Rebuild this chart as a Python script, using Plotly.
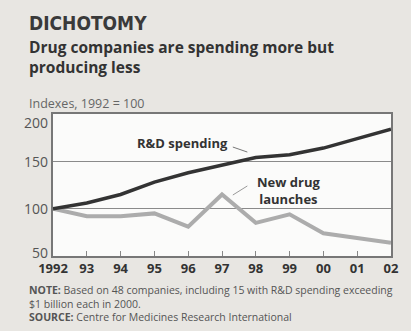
import plotly.graph_objects as go

years = [1992, 1993, 1994, 1995, 1996, 1997, 1998, 1999, 2000, 2001, 2002]
rd_spending = [100, 106, 115, 128, 138, 146, 154, 157, 164, 174, 184]
new_drug_launches = [100, 92, 92, 95, 81, 115, 85, 94, 74, 69, 64]
tick_labels = ["1992", "93", "94", "95", "96", "97", "98", "99", "00", "01", "02"]
y_ticks = [50, 100, 150, 200]
y_tick_shift = [4, 0, 0, -8]

FONT = "Open Sans"
BG = "#e8e6e2"

fig = go.Figure()
fig.add_trace(go.Scatter(x=years, y=new_drug_launches, mode="lines",
                         line=dict(color="#acacac", width=4), hoverinfo="skip"))
fig.add_trace(go.Scatter(x=years, y=rd_spending, mode="lines",
                         line=dict(color="#333333", width=3.5), hoverinfo="skip"))

fig.update_layout(
    width=411, height=331,
    margin=dict(l=53, r=12, t=114, b=75),
    paper_bgcolor=BG, plot_bgcolor="#fbfbfa",
    showlegend=False,
    font=dict(family=FONT, color="#444"),
)
fig.update_xaxes(range=[1992, 2002], tickvals=years, ticktext=tick_labels,
                 showgrid=False, zeroline=False,
                 showline=True, linecolor="#777", linewidth=1.5, mirror=True,
                 ticks="inside", ticklen=5, tickcolor="#888", tickwidth=1,
                 tickfont=dict(family=FONT, size=13, color="#333", weight="bold"))
fig.update_yaxes(range=[50, 200], tickvals=y_ticks, showticklabels=False,
                 showgrid=True, gridcolor="#8a8a8a", gridwidth=1, zeroline=False,
                 showline=True, linecolor="#777", linewidth=1.5, mirror=True,
                 ticks="")

ann = []
def ptext(x, y, text, size, color="#333", bold=False, family=FONT):
    return dict(xref="paper", yref="paper", x=(x - 53) / 346, y=(256 - y) / 142,
                xanchor="left", yanchor="middle", showarrow=False, align="left",
                text=text, font=dict(family=family, size=size, color=color,
                                     weight="bold" if bold else "normal"))

ann.append(ptext(26, 23, "DICHOTOMY", 19, "#3a3a3a", True, "DejaVu Sans Condensed"))
ann.append(ptext(26, 57, "Drug companies are spending more but<br>producing less", 15.5, "#333", True))
ann.append(ptext(26, 103, "Indexes, 1992 = 100", 12.5, "#666"))
ann.append(ptext(26, 303,
                 "<b>NOTE:</b> Based on 48 companies, including 15 with R&D spending exceeding"
                 "<br>$1 billion each in 2000."
                 "<br><b>SOURCE:</b> Centre for Medicines Research International",
                 10.5, "#555"))

for v, s in zip(y_ticks, y_tick_shift):
    ann.append(dict(xref="paper", yref="y", x=-3 / 346, y=v, yshift=s, text=str(v),
                    xanchor="right", yanchor="middle", showarrow=False,
                    font=dict(family=FONT, size=14, color="#555")))

ann.append(dict(x=1995.84, y=169.4, xref="x", yref="y", text="<b>R&D spending</b>",
                showarrow=False, font=dict(family=FONT, size=13, color="#333")))
ann.append(dict(x=1998.97, y=119.2, xref="x", yref="y", text="<b>New drug<br>launches</b>",
                showarrow=False, align="center", font=dict(family=FONT, size=13, color="#333")))
fig.update_layout(annotations=ann)

fig.add_shape(type="line", xref="x", yref="y", x0=1997.32, y0=165.1, x1=1997.75, y1=159.8,
              line=dict(color="#777", width=1))
fig.add_shape(type="line", xref="x", yref="y", x0=1997.75, y0=124, x1=1997.32, y1=114.4,
              line=dict(color="#999", width=1))

fig.write_html("out.html")
